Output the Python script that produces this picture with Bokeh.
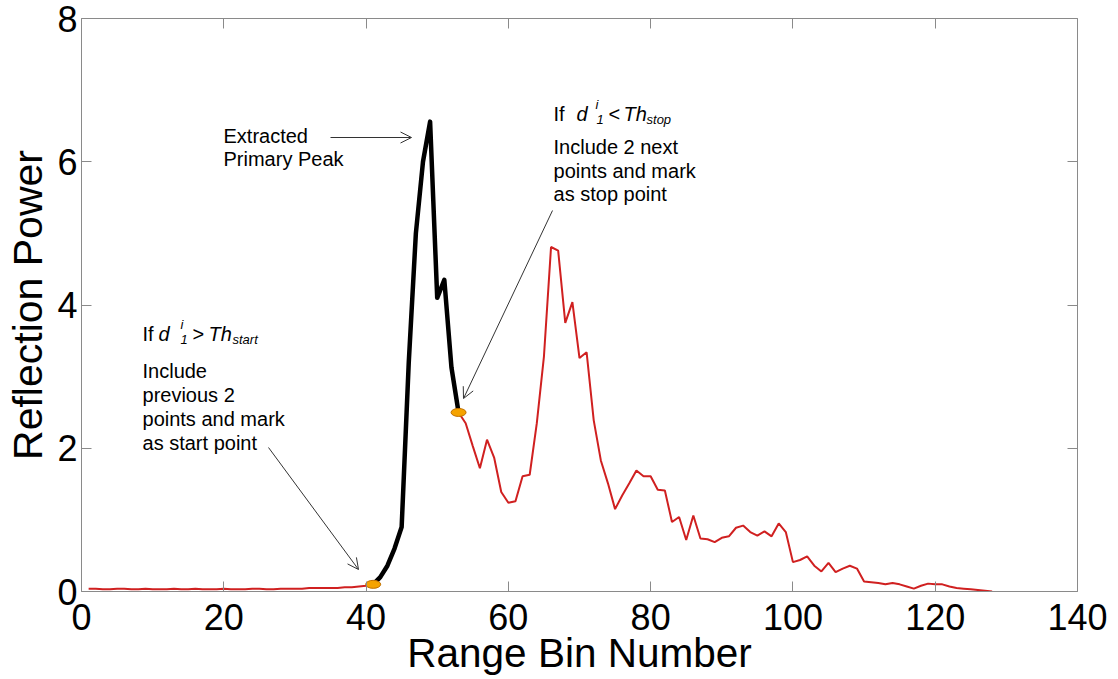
from bokeh.plotting import figure
from bokeh.models import Range1d, LinearAxis, Label, Arrow, OpenHead, FixedTicker, CustomJSTickFormatter
from bokeh.embed import file_html
from bokeh.resources import INLINE

# ---------------- data ----------------
bins = list(range(1, 129))
power = [
    0.04, 0.04, 0.03, 0.03, 0.04, 0.04, 0.03, 0.03, 0.04, 0.03,
    0.03, 0.03, 0.04, 0.03, 0.03, 0.04, 0.03, 0.03, 0.03, 0.04,
    0.03, 0.03, 0.03, 0.04, 0.04, 0.03, 0.03, 0.04, 0.04, 0.04,
    0.04, 0.05, 0.05, 0.05, 0.05, 0.05, 0.06, 0.06, 0.07, 0.08,
    0.10, 0.20, 0.36, 0.60, 0.90, 3.20, 5.00, 6.00, 6.56, 4.10,
    4.35, 3.13, 2.50, 2.35, 2.03, 1.72, 2.12, 1.87, 1.39, 1.24,
    1.26, 1.61, 1.63, 2.35, 3.28, 4.81, 4.76, 3.75, 4.04, 3.26,
    3.34, 2.39, 1.83, 1.51, 1.15, 1.34, 1.51, 1.69, 1.61, 1.61,
    1.42, 1.41, 0.97, 1.04, 0.72, 1.06, 0.74, 0.73, 0.69, 0.75,
    0.77, 0.89, 0.92, 0.83, 0.78, 0.84, 0.77, 0.95, 0.83, 0.41,
    0.44, 0.49, 0.36, 0.28, 0.40, 0.27, 0.32, 0.36, 0.32, 0.14,
    0.13, 0.12, 0.10, 0.12, 0.10, 0.07, 0.04, 0.08, 0.11, 0.10,
    0.10, 0.07, 0.05, 0.04, 0.03, 0.02, 0.01, 0.00,
]
start_bin = 41
stop_bin = 53
x_ticks = [0, 20, 40, 60, 80, 100, 120, 140]
y_ticks = [0, 2, 4, 6, 8]
x_label = "Range Bin Number"
y_label = "Reflection Power"

# ---------------- figure ----------------
FONT = "Liberation Sans"
AXIS_COLOR = "#8a8a8a"

p = figure(width=1110, height=678, output_backend="svg", toolbar_location=None,
           x_range=Range1d(0, 140), y_range=Range1d(0, 8),
           min_border_left=81, min_border_right=33, min_border_top=18, min_border_bottom=87,
           background_fill_color="white", border_fill_color="white")
p.grid.visible = False
p.outline_line_color = None


def style_axis(ax, ticks, show_labels, standoff):
    ax.ticker = FixedTicker(ticks=ticks)
    ax.axis_line_color = AXIS_COLOR
    ax.axis_line_width = 1
    ax.major_tick_line_color = AXIS_COLOR
    ax.major_tick_in = 10
    ax.major_tick_out = 0
    ax.minor_tick_line_color = None
    ax.major_label_standoff = standoff
    if show_labels:
        ax.major_label_text_font = FONT
        ax.major_label_text_font_size = "36px"
        ax.major_label_text_color = "black"
        ax.axis_label_text_font = FONT
        ax.axis_label_text_font_style = "normal"
        ax.axis_label_text_color = "black"
    else:
        ax.formatter = CustomJSTickFormatter(code="return ''")
        ax.major_label_text_font_size = "0px"


xa = p.xaxis[0]
ya = p.yaxis[0]
style_axis(xa, x_ticks, True, 12)
style_axis(ya, y_ticks, True, 4)
xa.axis_label = x_label
xa.axis_label_text_font_size = "40.5px"
xa.axis_label_standoff = -3
ya.axis_label = y_label
ya.axis_label_text_font_size = "41px"
ya.axis_label_standoff = 3

top_ax = LinearAxis()
right_ax = LinearAxis()
style_axis(top_ax, x_ticks, False, 0)
style_axis(right_ax, y_ticks, False, 0)
p.add_layout(top_ax, "above")
p.add_layout(right_ax, "right")

# ---------------- data marks ----------------
p.line(bins, power, line_color="#d02020", line_width=2)
i0 = bins.index(start_bin)
i1 = bins.index(stop_bin) + 1
p.line(bins[i0:i1], power[i0:i1], line_color="black", line_width=4.5, line_join="round")
p.ellipse(x=[bins[i0], bins[i1 - 1]], y=[power[i0], power[i1 - 1]],
          width=15, height=8, width_units="screen", height_units="screen",
          fill_color="#f5a300", line_color="#c07000", line_width=1)


# ---------------- annotations (page pixel -> data helpers) ----------------
def dx(px):
    return (px - 81) / 7.114


def dy(py):
    return (591 - py) / 71.625


def lab(text, px, py, size=20, style="normal", align="left"):
    p.add_layout(Label(x=dx(px), y=dy(py), text=text, text_font=FONT,
                       text_font_size=f"{size}px", text_font_style=style,
                       text_color="black", text_align=align,
                       text_baseline="alphabetic"))


def arrow(x0, y0, x1, y1):
    p.add_layout(Arrow(end=OpenHead(size=11, line_width=1, line_color="#333333"),
                       x_start=dx(x0), y_start=dy(y0), x_end=dx(x1), y_end=dy(y1),
                       line_color="#333333", line_width=1))


# peak
lab("Extracted", 223, 135)
lab("Primary Peak", 223, 158)
arrow(330, 137, 411, 137)

# start point
lab("If", 142, 333)
lab("d", 158, 333, style="italic")
lab("i", 180, 324, size=13, style="italic")
lab("1", 180, 339, size=13, style="italic")
lab(">", 192, 333)
lab("Th", 208, 333, style="italic")
lab("start", 232, 339, size=13, style="italic")
lab("Include", 142, 370)
lab("previous 2", 142, 394)
lab("points and mark", 142, 418)
lab("as start point", 142, 442)
arrow(268, 447, 358, 569)

# stop point
lab("If", 553, 113)
lab("d", 576, 113, style="italic")
lab("i", 595, 104, size=13, style="italic")
lab("1", 596, 119, size=13, style="italic")
lab("<", 608, 113)
lab("Th", 623, 113, style="italic")
lab("stop", 646, 119, size=13, style="italic")
lab("Include 2 next", 553, 146)
lab("points and mark", 553, 170)
lab("as stop point", 553, 193)
arrow(552, 210, 463, 398)

open("out.html", "w").write(file_html(p, INLINE))
